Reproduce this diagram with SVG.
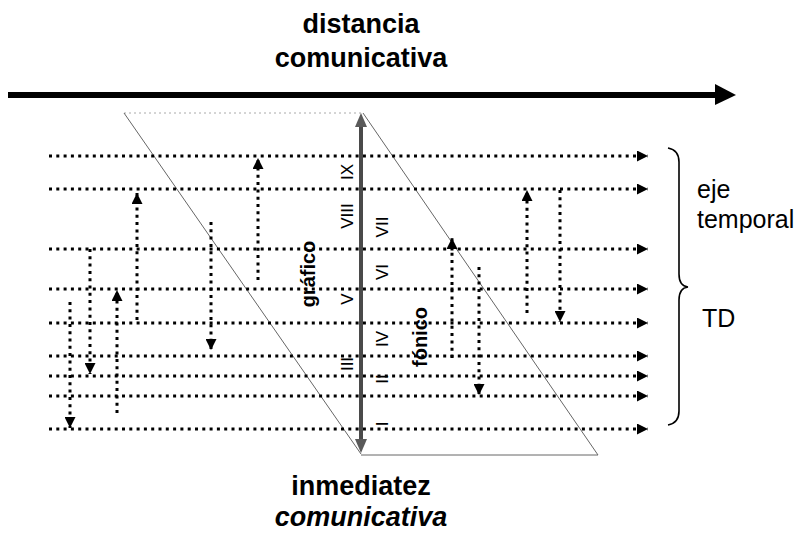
<svg xmlns="http://www.w3.org/2000/svg" width="804" height="536" viewBox="0 0 804 536">
<style>
.title{font-family:"Liberation Sans",Arial,sans-serif;font-weight:bold;font-size:27px;fill:#000}
.lab{font-family:"Liberation Sans",Arial,sans-serif;font-size:25px;fill:#000}
.num{font-family:"Liberation Sans",Arial,sans-serif;font-size:17px;fill:#000}
.mode{font-family:"Liberation Sans",Arial,sans-serif;font-weight:bold;font-size:20px;fill:#000}
.dot{stroke:#000;stroke-width:3;stroke-dasharray:3 4.3;fill:none}
.edge{stroke:#666;stroke-width:1;fill:none}
</style>
<defs>
<marker id="tri" viewBox="0 0 10 10" refX="10" refY="5" markerWidth="11" markerHeight="11" markerUnits="userSpaceOnUse" orient="auto"><path d="M0,0 L10,5 L0,10 z" fill="#000"/></marker>
</defs>
<rect width="804" height="536" fill="#fff"/>

<g id="titulo-distancia">
<text class="title" x="361" y="33" text-anchor="middle">distancia</text>
<text class="title" x="361" y="67" text-anchor="middle">comunicativa</text>
</g>
<g id="titulo-inmediatez">
<text class="title" x="361" y="495" text-anchor="middle">inmediatez</text>
<text class="title" x="361" y="526" text-anchor="middle" font-style="italic">comunicativa</text>
</g>

<g id="parallelogram">
<line x1="124" y1="113" x2="361" y2="113" stroke="#aaa" stroke-width="1" stroke-dasharray="2 3"/>
<line class="edge" x1="124" y1="113" x2="361" y2="454"/>
<line class="edge" x1="363" y1="113" x2="598" y2="455"/>
<line class="edge" x1="361" y1="455" x2="598" y2="455"/>
</g>

<g id="connectors">
<line x1="8" y1="95" x2="717" y2="95" stroke="#000" stroke-width="6"/>
<polygon points="715,84 736,95 715,105" fill="#000"/>

<line class="dot" x1="49" y1="156" x2="648" y2="156" marker-end="url(#tri)"/>
<line class="dot" x1="49" y1="189" x2="648" y2="189" marker-end="url(#tri)"/>
<line class="dot" x1="49" y1="249" x2="648" y2="249" marker-end="url(#tri)"/>
<line class="dot" x1="49" y1="289" x2="648" y2="289" marker-end="url(#tri)"/>
<line class="dot" x1="49" y1="323" x2="648" y2="323" marker-end="url(#tri)"/>
<line class="dot" x1="49" y1="356" x2="648" y2="356" marker-end="url(#tri)"/>
<line class="dot" x1="49" y1="376" x2="648" y2="376" marker-end="url(#tri)"/>
<line class="dot" x1="49" y1="396" x2="648" y2="396" marker-end="url(#tri)"/>
<line class="dot" x1="49" y1="429" x2="648" y2="429" marker-end="url(#tri)"/>

<line class="dot" x1="258" y1="280" x2="258" y2="158" marker-end="url(#tri)"/>
<line class="dot" x1="137" y1="320" x2="137" y2="193" marker-end="url(#tri)"/>
<line class="dot" x1="117" y1="413" x2="117" y2="290" marker-end="url(#tri)"/>
<line class="dot" x1="452" y1="358" x2="452" y2="238" marker-end="url(#tri)"/>
<line class="dot" x1="527" y1="313" x2="527" y2="190" marker-end="url(#tri)"/>
<line class="dot" x1="211" y1="222" x2="211" y2="350" marker-end="url(#tri)"/>
<line class="dot" x1="90" y1="249" x2="90" y2="374" marker-end="url(#tri)"/>
<line class="dot" x1="70" y1="302" x2="70" y2="428" marker-end="url(#tri)"/>
<line class="dot" x1="479" y1="267" x2="479" y2="395" marker-end="url(#tri)"/>
<line class="dot" x1="560" y1="190" x2="560" y2="322" marker-end="url(#tri)"/>

<line x1="361" y1="124" x2="361" y2="442" stroke="#4a4a4a" stroke-width="4"/>
<polygon points="361,113 367,127 355,127" fill="#5a5a5a"/>
<polygon points="361,453 367,439 355,439" fill="#5a5a5a"/>
</g>

<g id="brace">
<path d="M668,148 Q679,150 679,162 L679,274 Q679,286 688,287 Q679,288 679,300 L679,411 Q679,423 668,425" stroke="#000" stroke-width="1.6" fill="none"/>
</g>

<g id="eje-temporal">
<text class="lab" x="697" y="198">eje</text>
<text class="lab" x="697" y="228">temporal</text>
</g>
<g id="td">
<text class="lab" x="702" y="327">TD</text>
</g>

<g id="grafico">
<text class="mode" transform="translate(315,274) rotate(-90)" text-anchor="middle">gráfico</text>
</g>
<g id="fonico">
<text class="mode" transform="translate(427,337) rotate(-90)" text-anchor="middle">fónico</text>
</g>

<g id="numerales">
<text class="num" transform="translate(353,172) rotate(-90)" text-anchor="middle">IX</text>
<text class="num" transform="translate(353,216) rotate(-90)" text-anchor="middle">VIII</text>
<text class="num" transform="translate(353,299) rotate(-90)" text-anchor="middle">V</text>
<text class="num" transform="translate(353,364) rotate(-90)" text-anchor="middle">III</text>
<text class="num" transform="translate(388,227) rotate(-90)" text-anchor="middle">VII</text>
<text class="num" transform="translate(388,272) rotate(-90)" text-anchor="middle">VI</text>
<text class="num" transform="translate(388,339) rotate(-90)" text-anchor="middle">IV</text>
<text class="num" transform="translate(388,379) rotate(-90)" text-anchor="middle">II</text>
<text class="num" transform="translate(388,424) rotate(-90)" text-anchor="middle">I</text>
</g>
</svg>
